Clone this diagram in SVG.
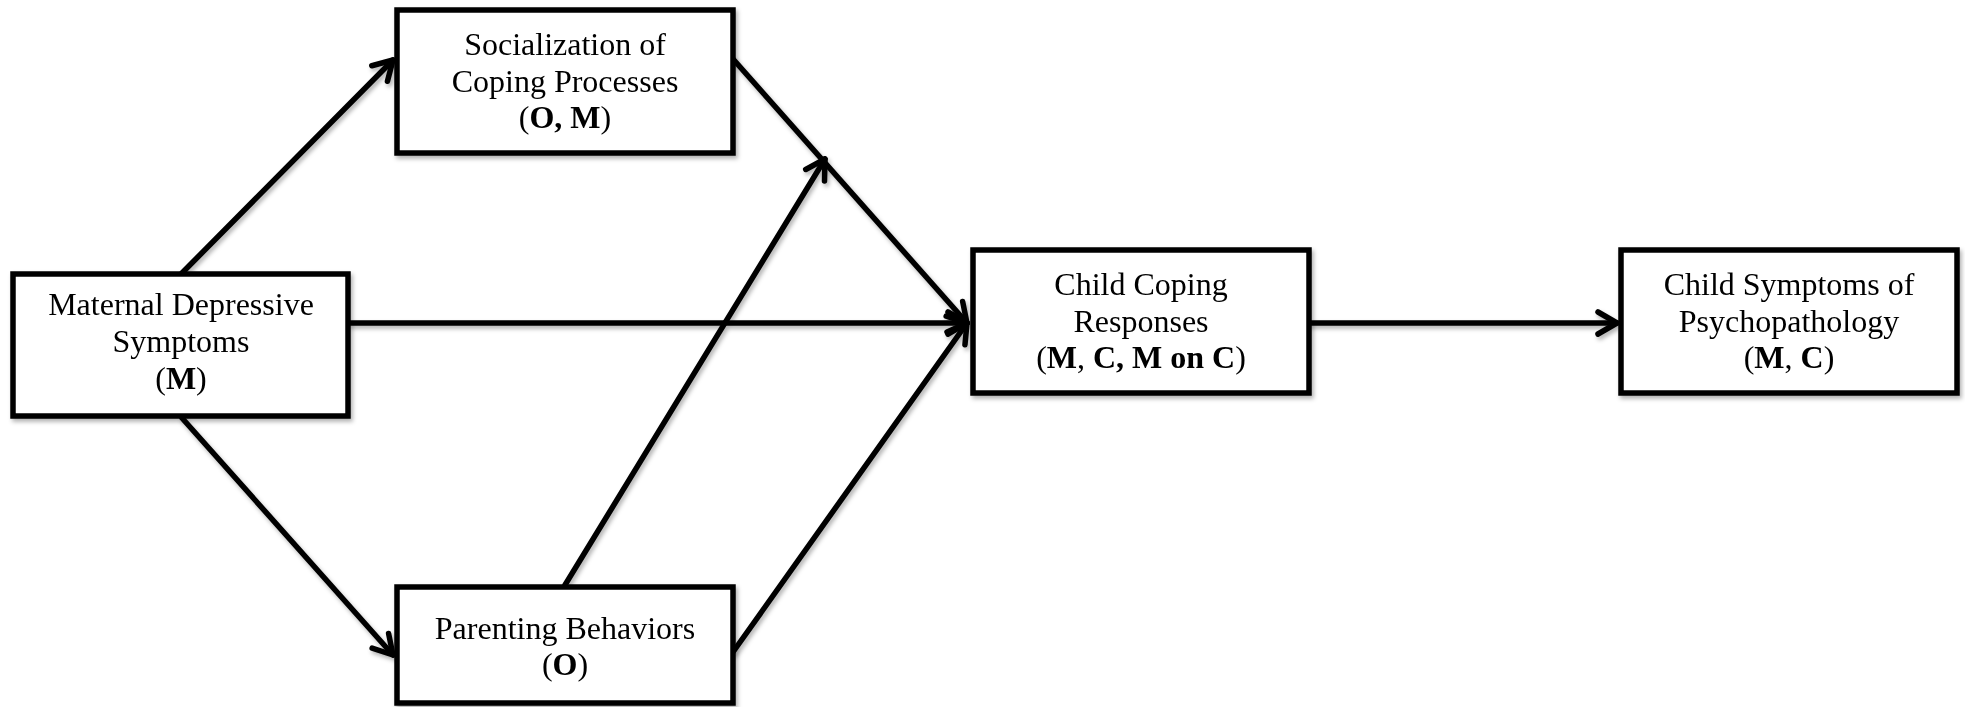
<svg xmlns="http://www.w3.org/2000/svg" width="1965" height="707" viewBox="0 0 1965 707">
<style>
.box{fill:#fff;stroke:#000;stroke-width:5.5}
.t{font-family:"Liberation Serif","Times New Roman",serif;font-size:32px;fill:#000;text-anchor:middle}
.b{font-weight:bold}
.c{fill:none;stroke:#000;stroke-width:5.5;stroke-linecap:round}
</style>
<defs>
<filter id="sh" x="-10%" y="-10%" width="130%" height="130%">
<feDropShadow dx="2" dy="3" stdDeviation="2" flood-color="#000" flood-opacity="0.3"/>
</filter>
<marker id="ah" viewBox="-26 -15 32 30" refX="0" refY="0" markerWidth="32" markerHeight="30" markerUnits="userSpaceOnUse" orient="auto">
<path d="M-19,-11 L0,0 L-19,11" fill="none" stroke="#000" stroke-width="5.5" stroke-linecap="round" stroke-linejoin="round"/>
</marker>
</defs>
<g id="connectors" filter="url(#sh)">
<line class="c" x1="182" y1="273" x2="393" y2="60" marker-end="url(#ah)"/>
<line class="c" x1="182" y1="418" x2="393" y2="655" marker-end="url(#ah)"/>
<line class="c" x1="350" y1="323" x2="967" y2="323" marker-end="url(#ah)"/>
<line class="c" x1="733" y1="59" x2="967" y2="323" marker-end="url(#ah)"/>
<line class="c" x1="733" y1="652" x2="967" y2="323" marker-end="url(#ah)"/>
<line class="c" x1="565" y1="585" x2="825" y2="159" marker-end="url(#ah)"/>
<line class="c" x1="1309" y1="323" x2="1617" y2="323" marker-end="url(#ah)"/>
</g>
<g id="maternal" filter="url(#sh)">
<rect class="box" x="13" y="274" width="335" height="142"/>
<text class="t" x="181" y="315">Maternal Depressive</text>
<text class="t" x="181" y="352">Symptoms</text>
<text class="t" x="181" y="389">(<tspan class="b">M</tspan>)</text>
</g>
<g id="socialization" filter="url(#sh)">
<rect class="box" x="397" y="10" width="336" height="143"/>
<text class="t" x="565" y="55">Socialization of</text>
<text class="t" x="565" y="92">Coping Processes</text>
<text class="t" x="565" y="128">(<tspan class="b">O, M</tspan>)</text>
</g>
<g id="parenting" filter="url(#sh)">
<rect class="box" x="397" y="587" width="336" height="116"/>
<text class="t" x="565" y="639">Parenting Behaviors</text>
<text class="t" x="565" y="675">(<tspan class="b">O</tspan>)</text>
</g>
<g id="childcoping" filter="url(#sh)">
<rect class="box" x="973" y="250" width="336" height="143"/>
<text class="t" x="1141" y="295">Child Coping</text>
<text class="t" x="1141" y="332">Responses</text>
<text class="t" x="1141" y="368">(<tspan class="b">M</tspan>, <tspan class="b">C, M on C</tspan>)</text>
</g>
<g id="childsymptoms" filter="url(#sh)">
<rect class="box" x="1621" y="250" width="336" height="143"/>
<text class="t" x="1789" y="295">Child Symptoms of</text>
<text class="t" x="1789" y="332">Psychopathology</text>
<text class="t" x="1789" y="368">(<tspan class="b">M</tspan>, <tspan class="b">C</tspan>)</text>
</g>
</svg>
